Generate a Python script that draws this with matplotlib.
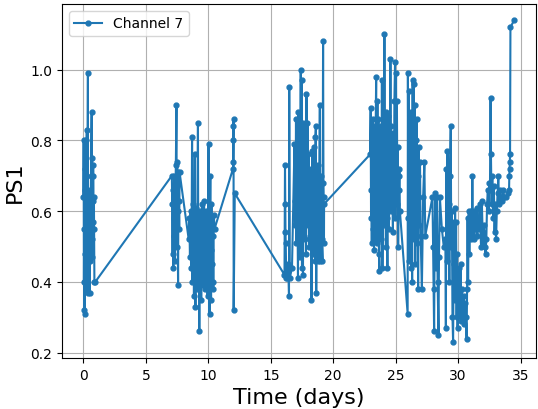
import numpy as np
import matplotlib
matplotlib.use("Agg")
import matplotlib.pyplot as plt

# ---- data, split by observing run ----
t_run1 = [0.00, 0.02, 0.04, 0.06, 0.08, 0.09, 0.11, 0.13, 0.15, 0.17, 0.19, 0.21, 0.23, 0.25,
          0.27, 0.29, 0.31, 0.36, 0.38, 0.40, 0.43, 0.46, 0.49, 0.52, 0.55, 0.58, 0.66, 0.68,
          0.70, 0.72, 0.74, 0.76, 0.78, 0.80, 0.82, 0.84, 0.88, 0.95]
ps1_run1 = [0.64, 0.80, 0.40, 0.55, 0.32, 0.31, 0.66, 0.72, 0.48, 0.80, 0.45, 0.62, 0.38, 0.70,
            0.83, 0.42, 0.58, 0.99, 0.37, 0.64, 0.50, 0.61, 0.37, 0.66, 0.46, 0.60, 0.88, 0.52,
            0.75, 0.47, 0.70, 0.57, 0.73, 0.63, 0.55, 0.64, 0.40, 0.40]

t_run2 = [7.08, 7.11, 7.14, 7.17, 7.20, 7.23, 7.26, 7.29, 7.32, 7.36, 7.40, 7.45, 7.48, 7.51,
          7.54, 7.58, 7.61, 7.64, 7.67, 7.70]
ps1_run2 = [0.70, 0.62, 0.48, 0.66, 0.44, 0.58, 0.70, 0.53, 0.46, 0.63, 0.73, 0.90, 0.50, 0.74,
            0.60, 0.39, 0.71, 0.63, 0.55, 0.71]

t_run3 = [8.43, 8.48, 8.53, 8.58, 8.62, 8.66, 8.70, 8.73, 8.76, 8.79, 8.82, 8.85, 8.88, 8.91,
          8.94, 8.97, 9.00, 9.03, 9.06, 9.09, 9.12, 9.17, 9.20, 9.24, 9.28, 9.31, 9.34, 9.37,
          9.40, 9.43, 9.46, 9.49, 9.52, 9.55, 9.57, 9.60, 9.63, 9.66, 9.69, 9.72, 9.75, 9.78,
          9.81, 9.84, 9.87, 9.90, 9.94, 9.98, 10.02, 10.06, 10.10, 10.13, 10.16, 10.19, 10.22,
          10.25, 10.28, 10.31, 10.34, 10.37, 10.40, 10.44, 10.50]
ps1_run3 = [0.52, 0.58, 0.47, 0.60, 0.44, 0.50, 0.81, 0.40, 0.62, 0.46, 0.55, 0.36, 0.58, 0.76,
            0.42, 0.33, 0.61, 0.45, 0.54, 0.38, 0.59, 0.85, 0.43, 0.56, 0.26, 0.52, 0.60, 0.41,
            0.57, 0.35, 0.49, 0.62, 0.44, 0.58, 0.39, 0.55, 0.47, 0.63, 0.42, 0.53, 0.38, 0.60,
            0.48, 0.56, 0.43, 0.52, 0.36, 0.60, 0.79, 0.46, 0.31, 0.58, 0.70, 0.49, 0.35, 0.62,
            0.45, 0.56, 0.40, 0.53, 0.38, 0.59, 0.55]

t_run4 = [11.98, 11.99, 12.00, 12.01, 12.02, 12.03, 12.12]
ps1_run4 = [0.72, 0.74, 0.80, 0.84, 0.86, 0.32, 0.65]

t_run5 = [16.10, 16.14, 16.16, 16.18, 16.20, 16.24, 16.32, 16.40, 16.46, 16.48, 16.52, 16.70,
          16.90, 16.94, 16.98, 17.02, 17.06, 17.10, 17.14, 17.18, 17.22, 17.26, 17.30, 17.34,
          17.38, 17.40, 17.44, 17.47, 17.50, 17.54, 17.58, 17.62, 17.66, 17.70, 17.74, 17.78,
          17.82, 17.86, 17.90, 17.94, 17.98, 18.02, 18.06, 18.10, 18.14, 18.18, 18.22, 18.26,
          18.30, 18.34, 18.38, 18.42, 18.46, 18.50, 18.54, 18.58, 18.61, 18.64, 18.68, 18.72,
          18.76, 18.80, 18.86, 18.93, 18.97, 19.02, 19.08, 19.14, 19.19, 19.22, 19.24, 19.26,
          19.27]
ps1_run5 = [0.42, 0.73, 0.62, 0.54, 0.51, 0.41, 0.41, 0.45, 0.36, 0.95, 0.41, 0.44,
            0.79, 0.63, 0.56, 0.86, 0.51, 0.74, 0.60, 0.41, 0.88, 0.55, 0.78, 0.47,
            0.83, 1.00, 0.58, 0.97, 0.44, 0.72, 0.42, 0.85, 0.60, 0.79, 0.52, 0.69,
            0.48, 0.93, 0.64, 0.85, 0.56, 0.76, 0.50, 0.72, 0.62, 0.53, 0.66, 0.35,
            0.58, 0.77, 0.48, 0.70, 0.62, 0.78, 0.46, 0.81, 0.84, 0.37, 0.65, 0.52,
            0.73, 0.46, 0.60, 0.90, 0.46, 0.70, 0.52, 0.46, 1.08, 0.68, 0.64, 0.51,
            0.62]

t_run6 = [22.95, 23.00, 23.03, 23.06, 23.09, 23.12, 23.15, 23.18, 23.21, 23.24, 23.27, 23.30,
          23.34, 23.38, 23.44, 23.47, 23.50, 23.54, 23.58, 23.62, 23.66, 23.70, 23.74, 23.78,
          23.82, 23.86, 23.90, 23.94, 23.98, 24.02, 24.06, 24.10, 24.14, 24.18, 24.22, 24.26,
          24.30, 24.34, 24.38, 24.42, 24.46, 24.50, 24.58, 24.62, 24.66, 24.70, 24.74, 24.78,
          24.82, 24.86, 24.90, 24.95, 24.98, 25.03, 25.06, 25.10, 25.14, 25.17, 25.20, 25.24,
          25.27, 25.30, 25.34, 25.96, 25.98, 26.02, 26.04, 26.08, 26.12, 26.16, 26.20, 26.24,
          26.28, 26.32, 26.36, 26.40, 26.44, 26.49, 26.53, 26.57, 26.61, 26.65, 26.69, 26.73,
          26.76, 26.80, 26.85, 26.90, 26.95, 27.00, 27.10, 27.20, 27.30, 27.37]
ps1_run6 = [0.76, 0.89, 0.58, 0.66, 0.51, 0.80, 0.62, 0.86, 0.55, 0.72, 0.49, 0.84,
            0.61, 0.77, 0.98, 0.51, 0.70, 0.91, 0.57, 0.86, 0.48, 0.43, 0.75, 0.60,
            0.84, 0.52, 0.97, 0.44, 0.68, 0.82, 0.56, 1.10, 0.62, 0.78, 0.50, 0.88,
            0.58, 0.44, 0.73, 0.87, 0.55, 0.66, 1.03, 0.84, 0.60, 0.76, 0.69, 0.54,
            0.82, 0.64, 0.91, 1.02, 0.58, 0.99, 0.71, 0.91, 0.62, 0.78, 0.50, 0.70,
            0.66, 0.72, 0.60, 0.31, 0.99, 0.58, 0.94, 0.46, 0.82, 0.56, 0.88, 0.44,
            0.74, 0.40, 0.97, 0.62, 0.96, 0.52, 0.90, 0.45, 0.80, 0.57, 0.86, 0.51,
            0.70, 0.38, 0.78, 0.56, 0.74, 0.53, 0.38, 0.64, 0.74, 0.53]

t_run7 = [27.95, 28.00, 28.04, 28.08, 28.12, 28.18, 28.24, 28.30, 28.36, 28.43, 28.47, 28.54,
          28.70, 28.85, 28.98, 29.02, 29.06, 29.10, 29.15, 29.20, 29.25, 29.30, 29.35, 29.41,
          29.45, 29.50, 29.55, 29.60, 29.64, 29.68, 29.72, 29.76, 29.80, 29.84, 29.88, 29.92,
          29.96, 30.00, 30.05, 30.10, 30.15, 30.21, 30.26, 30.32, 30.38, 30.44, 30.50, 30.56,
          30.62, 30.68, 30.72, 30.76, 30.80, 30.85, 30.90, 30.95, 31.00, 31.06, 31.10, 31.14,
          31.18, 31.24, 31.30, 31.36, 31.42, 31.48, 31.54, 31.60, 31.66, 31.72, 31.78, 31.84,
          31.90, 31.96, 32.02, 32.08, 32.14, 32.20, 32.26, 32.32, 32.38, 32.44, 32.50, 32.55,
          32.60, 32.63, 32.68, 32.74, 32.80, 32.86, 32.92, 32.98, 33.04, 33.10, 33.16, 33.22,
          33.28, 33.34, 33.40, 33.50, 33.60, 33.70, 33.85, 34.00, 34.08, 34.10, 34.12, 34.14,
          34.16, 34.19, 34.50]
ps1_run7 = [0.64, 0.50, 0.38, 0.26, 0.52, 0.65, 0.44, 0.64, 0.40, 0.25, 0.47, 0.64,
            0.55, 0.50, 0.52, 0.27, 0.72, 0.46, 0.77, 0.52, 0.62, 0.40, 0.70, 0.84,
            0.50, 0.60, 0.30, 0.23, 0.45, 0.57, 0.35, 0.61, 0.42, 0.57, 0.30, 0.48,
            0.27, 0.40, 0.31, 0.44, 0.33, 0.45, 0.29, 0.38, 0.30, 0.36, 0.28, 0.34,
            0.30, 0.24, 0.38, 0.58, 0.40, 0.60, 0.48, 0.58, 0.52, 0.60, 0.53, 0.70,
            0.55, 0.60, 0.52, 0.59, 0.55, 0.61, 0.53, 0.58, 0.56, 0.62, 0.55, 0.50,
            0.63, 0.54, 0.51, 0.56, 0.50, 0.48, 0.52, 0.62, 0.66, 0.60, 0.68, 0.66,
            0.92, 0.76, 0.62, 0.70, 0.58, 0.67, 0.54, 0.62, 0.52, 0.60, 0.65, 0.70,
            0.62, 0.66, 0.64, 0.63, 0.66, 0.64, 0.64, 0.65, 0.66, 0.70, 0.72, 0.74,
            0.76, 1.12, 1.14]

time_days = np.concatenate([t_run1, t_run2, t_run3, t_run4, t_run5, t_run6, t_run7])
ps1 = np.concatenate([ps1_run1, ps1_run2, ps1_run3, ps1_run4, ps1_run5, ps1_run6, ps1_run7])

# ---- plot ----
fig = plt.figure(figsize=(5.38, 4.10), dpi=100)
ax = fig.add_subplot(111)
fig.subplots_adjust(left=0.115, right=0.996, top=0.988, bottom=0.124)

ax.plot(time_days, ps1, "o-", color="#1f77b4", markersize=3.5, linewidth=1.5, label="Channel 7")

ax.set_xlabel("Time (days)", fontsize=16)
ax.set_ylabel("PS1", fontsize=16)
ax.set_xticks([0, 5, 10, 15, 20, 25, 30, 35])
ax.grid(True)
ax.legend(loc="upper left")

fig.savefig("out.png", dpi=100)
